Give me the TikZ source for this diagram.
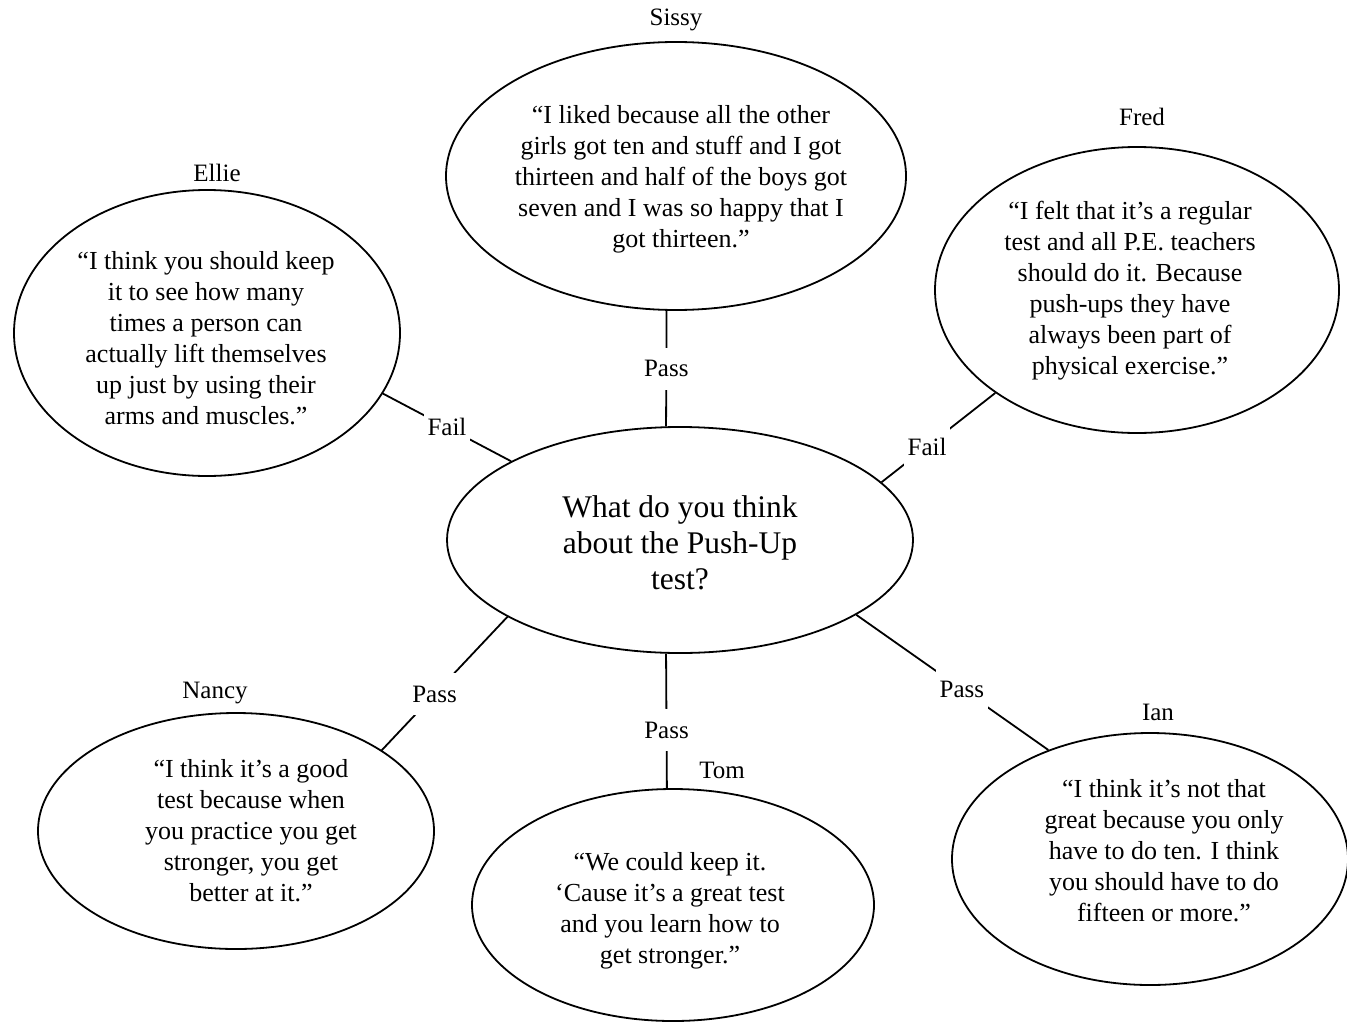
\documentclass[tikz,border=0pt]{standalone}
\usepackage{fontspec}
\setmainfont{Liberation Serif}
\usepackage{tikz}
\usetikzlibrary{shapes}
\tikzset{
  talk_node/.style = {ellipse, draw=black, line width=0.9pt,
    inner sep=0pt},% bulle
  quote_text/.style = {align=center, inner sep=0pt, text centered,
    font=\fontsize{13}{15.5}\selectfont},% citation
  question_text/.style = {quote_text,
    font=\fontsize{15.75}{18}\selectfont},% question au centre
  kid_name/.style = {inner sep=0pt, font=\fontsize{12.5}{15}\selectfont},% prenom
  vote_line/.style = {draw=black, line width=0.9pt},% lien
  vote_label/.style = {fill=white, inner xsep=2pt, inner ysep=0pt,
    minimum height=21pt, font=\fontsize{12.5}{15}\selectfont}% Pass / Fail
}

\begin{document}
\begin{tikzpicture}[x=0.5pt, y=-0.5pt]
    \useasboundingbox (0,0) rectangle (1347,1022);
    % question
    \node [talk_node, minimum width=233pt, minimum height=113pt] (question) at (680,540) {};
    \node [question_text] (question_txt) at (680,543) {What do you think\\about the Push-Up\\test?};
    % bulles
    \node [talk_node, minimum width=230pt, minimum height=134pt] (sissy) at (676,176) {};
    \node [talk_node, minimum width=202pt, minimum height=143pt] (fred) at (1137,290) {};
    \node [talk_node, minimum width=193pt, minimum height=143pt] (ellie) at (207,333) {};
    \node [talk_node, minimum width=198pt, minimum height=118pt] (nancy) at (236,831) {};
    \node [talk_node, minimum width=201pt, minimum height=116pt] (tom) at (673,905) {};
    \node [talk_node, minimum width=198pt, minimum height=126pt] (ian) at (1150,859) {};
    % citations
    \node [quote_text] (sissy_txt) at (681,179) {“I liked because all the other\\girls got ten and stuff and I got\\thirteen and half of the boys got\\seven and I was so happy that I\\got thirteen.”};
    \node [quote_text] (fred_txt) at (1130,291) {“I felt that it’s a regular\\test and all P.E. teachers\\should do it. Because\\push-ups they have\\always been part of\\physical exercise.”};
    \node [quote_text] (ellie_txt) at (206,338) {“I think you should keep\\it to see how many\\times a person can\\actually lift themselves\\up just by using their\\arms and muscles.”};
    \node [quote_text] (nancy_txt) at (251,831) {“I think it’s a good\\test because when\\you practice you get\\stronger, you get\\better at it.”};
    \node [quote_text] (tom_txt) at (670,911) {“We could keep it.\\‘Cause it’s a great test\\and you learn how to\\get stronger.”};
    \node [quote_text] (ian_txt) at (1164,851) {“I think it’s not that\\great because you only\\have to do ten. I think\\you should have to do\\fifteen or more.”};
    % prenoms
    \node [kid_name] (sissy_name) at (676,20) {Sissy};
    \node [kid_name] (fred_name) at (1142,117) {Fred};
    \node [kid_name] (ellie_name) at (217,173) {Ellie};
    \node [kid_name] (nancy_name) at (215,693) {Nancy};
    \node [kid_name] (tom_name) at (722,770) {Tom};
    \node [kid_name] (ian_name) at (1158,712) {Ian};
    % liens
    \draw [vote_line] (sissy.-94.7) -- node [vote_label, pos=.5] (sissy_vote) {Pass} (question.97.6);
    \draw [vote_line] (ellie.-19.5) -- node [vote_label, pos=.5] (ellie_vote) {Fail} (question.155.9);
    \draw [vote_line] (fred.-144.5) -- node [vote_label, pos=.6] (fred_vote) {Fail} (question.16.9);
    \draw [vote_line] (question.204.6) -- node [vote_label, pos=.58] (nancy_vote) {Pass} (nancy.29.9);
    \draw [vote_line] (question.-97.5) -- node [vote_label, pos=.57] (tom_vote) {Pass} (tom.93.9);
    \draw [vote_line] (question.-23.7) -- node [vote_label, pos=.55] (ian_vote) {Pass} (ian.133.9);
\end{tikzpicture}
\end{document}
